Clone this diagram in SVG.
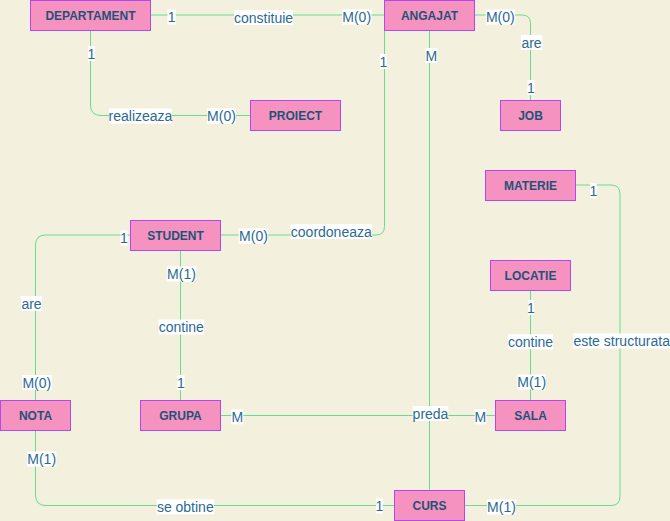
<svg xmlns="http://www.w3.org/2000/svg" width="670" height="521" viewBox="0 0 670 521">
<style>
.n rect{fill:#f592c0;stroke:#b347f5;stroke-width:1}
.n text{font-family:"Liberation Sans",Arial,sans-serif;font-size:12px;font-weight:bold;fill:#1f5277;text-anchor:middle}
.e{fill:none;stroke:#66dd90;stroke-width:1}
.l rect{fill:#ffffff}
.l text{font-family:"Liberation Sans",Arial,sans-serif;font-size:14px;fill:#2c6a95;text-anchor:middle}
</style>
<rect x="0" y="0" width="670" height="521" fill="#f4f0de"/>
<g id="connectors">
<path class="e" d="M150,15 H384"/>
<path class="e" d="M90.5,30 V105 Q90.5,115.5 101,115.5 H250"/>
<path class="e" d="M474,15 H522 Q530.5,15 530.5,23.5 V100"/>
<path class="e" d="M384.5,30 V226.5 Q384.5,235 376,235 H220"/>
<path class="e" d="M429.5,30 V490"/>
<path class="e" d="M220,415.5 H495"/>
<path class="e" d="M130,235 H45.5 Q35.5,235 35.5,245 V400"/>
<path class="e" d="M180.5,250 V400"/>
<path class="e" d="M35.5,430 V495 Q35.5,505.5 46,505.5 H394"/>
<path class="e" d="M530.5,290 V400"/>
<path class="e" d="M575,185 H611 Q620,185 620,194 V496.5 Q620,505.5 611,505.5 H464"/>
</g>
<g id="labels" class="l">
<rect x="167.5" y="9.5" width="8.5" height="15"/><text x="171.7" y="22">1</text>
<rect x="234" y="10" width="59" height="15"/><text x="263.5" y="22.5">constituie</text>
<rect x="342" y="9.5" width="29.5" height="15"/><text x="356.7" y="22">M(0)</text>
<rect x="485.7" y="9.5" width="29.5" height="15"/><text x="500.3" y="22">M(0)</text>
<rect x="521" y="35" width="21" height="15"/><text x="531.5" y="47.5">are</text>
<rect x="527.5" y="80" width="7" height="15"/><text x="531" y="92.5">1</text>
<rect x="88" y="46" width="7" height="15"/><text x="91.5" y="58.5">1</text>
<rect x="109" y="108.5" width="63" height="15"/><text x="140.5" y="121">realizeaza</text>
<rect x="207" y="108.5" width="29" height="15"/><text x="221.5" y="121">M(0)</text>
<rect x="380" y="54" width="7" height="15"/><text x="383.5" y="66.5">1</text>
<rect x="425.7" y="48" width="11.5" height="15"/><text x="431.3" y="60.5">M</text>
<rect x="120.5" y="230.5" width="7" height="15"/><text x="124" y="243">1</text>
<rect x="238.7" y="228.5" width="29.5" height="15"/><text x="253.5" y="241">M(0)</text>
<rect x="290.7" y="224" width="81.3" height="15"/><text x="331.3" y="236.5">coordoneaza</text>
<rect x="21" y="296" width="21" height="15"/><text x="31.5" y="308.5">are</text>
<rect x="166.7" y="266.5" width="29.5" height="15"/><text x="181.5" y="279">M(1)</text>
<rect x="158.7" y="319.5" width="45.3" height="15"/><text x="181.3" y="332">contine</text>
<rect x="22" y="375" width="29.7" height="15"/><text x="36.8" y="387.5">M(0)</text>
<rect x="177.5" y="375" width="7" height="15"/><text x="181" y="387.5">1</text>
<rect x="231.3" y="409.3" width="12" height="15"/><text x="237.3" y="421.8">M</text>
<rect x="412.7" y="406" width="35.6" height="15"/><text x="430.5" y="418.5">preda</text>
<rect x="474.7" y="409.3" width="11.5" height="15"/><text x="480.3" y="421.8">M</text>
<rect x="27" y="451.5" width="29.3" height="15"/><text x="41.7" y="464">M(1)</text>
<rect x="156.7" y="499.3" width="57.3" height="15"/><text x="185.3" y="511.8">se obtine</text>
<rect x="376" y="498.5" width="6.7" height="15"/><text x="379.3" y="511">1</text>
<rect x="487" y="499.5" width="29" height="15"/><text x="501.5" y="512">M(1)</text>
<rect x="590" y="183.5" width="6.7" height="15"/><text x="593.3" y="196">1</text>
<rect x="528" y="300" width="6" height="15"/><text x="531" y="312.5">1</text>
<rect x="508" y="334.3" width="45" height="15"/><text x="530.5" y="346.8">contine</text>
<rect x="573.3" y="333.5" width="96.7" height="15"/><text x="621.7" y="346">este structurata</text>
<rect x="517.3" y="374.5" width="28.7" height="15"/><text x="531.7" y="387">M(1)</text>
</g>
<g id="DEPARTAMENT" class="n"><rect x="30.5" y="0.5" width="120" height="30"/><text x="90.5" y="20">DEPARTAMENT</text></g>
<g id="ANGAJAT" class="n"><rect x="384.5" y="0.5" width="90" height="30"/><text x="429.5" y="20">ANGAJAT</text></g>
<g id="PROIECT" class="n"><rect x="250.5" y="100.5" width="90" height="30"/><text x="295.5" y="120">PROIECT</text></g>
<g id="JOB" class="n"><rect x="500.5" y="100.5" width="60" height="30"/><text x="530.5" y="120">JOB</text></g>
<g id="MATERIE" class="n"><rect x="485.5" y="170.5" width="90" height="30"/><text x="530.5" y="190">MATERIE</text></g>
<g id="LOCATIE" class="n"><rect x="490.5" y="260.5" width="80" height="30"/><text x="530.5" y="280">LOCATIE</text></g>
<g id="STUDENT" class="n"><rect x="130.5" y="220.5" width="90" height="30"/><text x="175.5" y="240">STUDENT</text></g>
<g id="NOTA" class="n"><rect x="0.5" y="400.5" width="70" height="30"/><text x="35.5" y="420">NOTA</text></g>
<g id="GRUPA" class="n"><rect x="140.5" y="400.5" width="80" height="30"/><text x="180.5" y="420">GRUPA</text></g>
<g id="SALA" class="n"><rect x="495.5" y="400.5" width="70" height="30"/><text x="530.5" y="420">SALA</text></g>
<g id="CURS" class="n"><rect x="394.5" y="490.5" width="70" height="30"/><text x="429.5" y="510">CURS</text></g>
</svg>
